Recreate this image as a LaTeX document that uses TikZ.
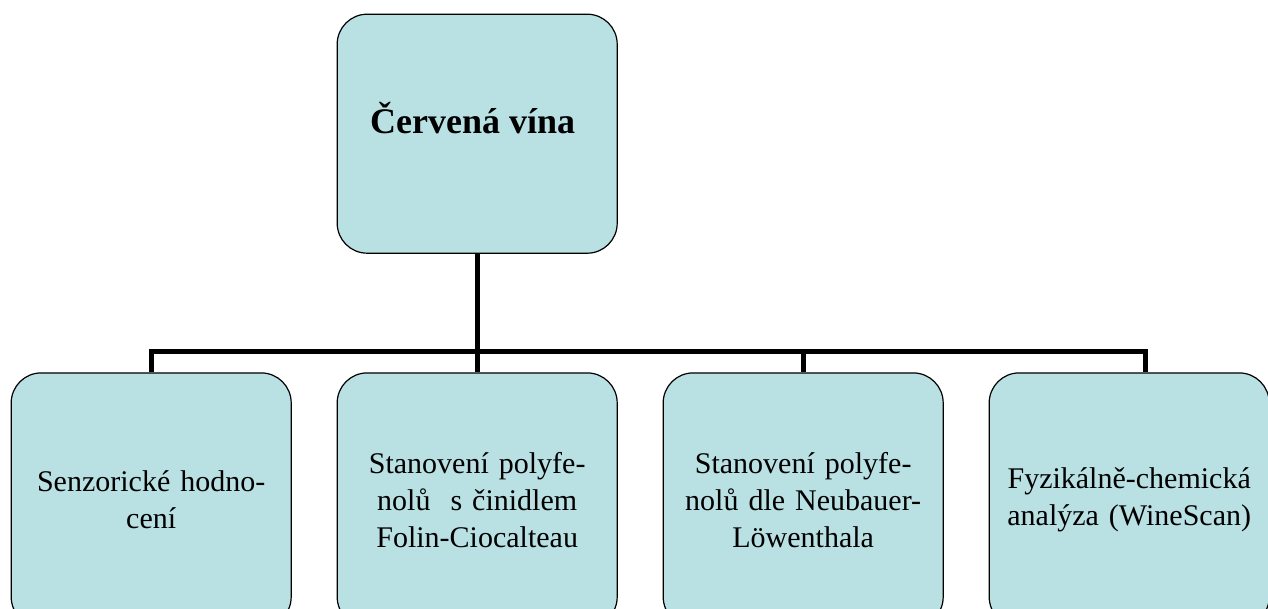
\documentclass[tikz,border=0pt]{standalone}
\usepackage{fontspec}
\setmainfont{Liberation Serif}
\usepackage{tikz}
\usetikzlibrary{matrix}

\definecolor{boxfill}{RGB}{185,224,227}
\tikzset{
  box/.style={draw=black, line width=1.2pt, fill=boxfill, rounded corners=30pt,
    minimum width=280pt, align=center, anchor=center, inner sep=0pt},
  root/.style={box, minimum height=239pt, font=\bfseries\fontsize{36}{40}\selectfont,
    text height=25pt, text depth=25pt},
  leaf/.style={box, minimum height=254pt, text width=272pt,
    font=\fontsize{30}{37}\selectfont},
  link/.style={line width=5pt}
}

\begin{document}
\begin{tikzpicture}
  \useasboundingbox (0pt,0pt) rectangle (1268pt,-608pt);
  \matrix (m) [matrix of nodes, row sep=118.5pt, column sep=44.8pt, inner sep=0pt,
    anchor=north west] at (10.4pt,-13.4pt)
  {
 & |[root]| Červená vína & & \\
|[leaf]| {Senzorické hodno-\\cení} &
|[leaf]| {Stanovení polyfe-\\nolů\ \ s činidlem\\Folin-Ciocalteau} &
|[leaf]| {Stanovení polyfe-\\nolů dle Neubauer-\\Löwenthala} &
|[leaf, text depth=43pt]| {Fyzikálně-chemická\\analýza (WineScan)} \\
};
  \coordinate (busL) at ([yshift=21pt]m-2-1.north);
  \coordinate (drop4) at ([xshift=16pt]m-2-4.north);
  \draw[link] (m-1-2.south) -- (m-2-2.north);
  \draw[link] (m-2-1.north) -- (busL) -| (drop4);
  \draw[link] (m-2-3.north) -- (m-2-3.north |- busL);
\end{tikzpicture}
\end{document}
